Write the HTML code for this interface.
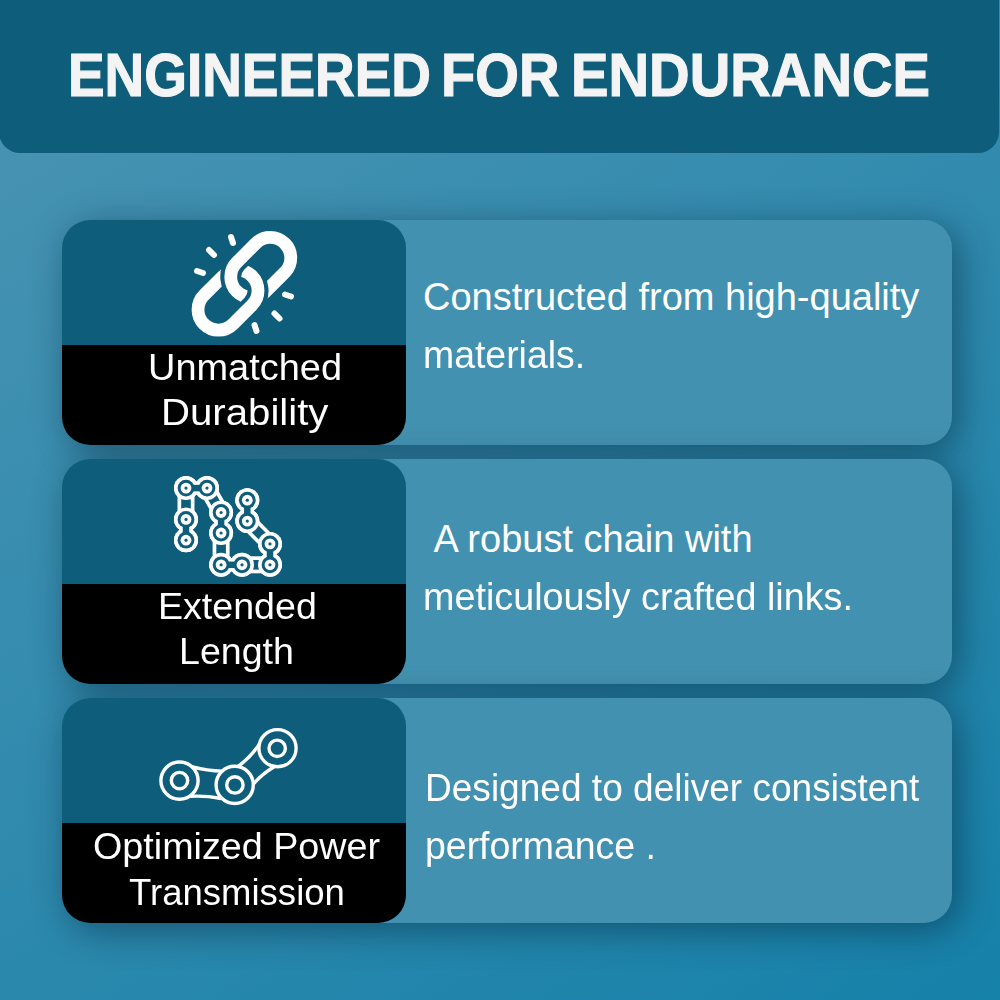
<!DOCTYPE html>
<html><head><meta charset="utf-8">
<style>
html,body{margin:0;padding:0}
body{width:1000px;height:1000px;position:relative;overflow:hidden;
 background:linear-gradient(148deg,rgb(75,148,179) 0%,rgb(22,129,169) 100%);
 font-family:"Liberation Sans",sans-serif;color:#fff}
.hdr{position:absolute;left:-1px;top:-30px;width:1000px;height:182.6px;background:#0e5d7a;border-radius:21px}
.title{font-weight:bold;font-size:62px;color:#f4f4f4;-webkit-text-stroke:1.2px #f4f4f4;word-spacing:-3px}
.card{position:absolute;left:62px;width:890px;height:225px;border-radius:28px;background:#4391b0;box-shadow:7px 7px 36px rgba(0,30,50,.48)}
.lft{position:absolute;left:0;top:0;width:344px;height:225px;border-radius:28px;background:linear-gradient(#0e5d7a 125px,#000 125px)}
.lft .top{position:absolute;left:0;top:0;width:344px;height:125px;background:#0f5d7b}
.t{position:absolute;white-space:nowrap;line-height:0;margin-top:-0.3465em;transform-origin:0 0}
.d{font-size:38px}
.l{font-size:36px}
svg{position:absolute;left:0;top:0}
</style></head><body>
<div class="hdr"></div>
<div class="t title" style="left:67.6px;top:96px;transform:scaleX(0.8854)">ENGINEERED</div>
<div class="t title" style="left:441.3px;top:96px;transform:scaleX(0.9048)">FOR</div>
<div class="t title" style="left:571.3px;top:96px;transform:scaleX(0.9064)">ENDURANCE</div>

<div class="card" style="top:220px"><div class="lft"></div></div>
<div class="card" style="top:459px"><div class="lft"></div></div>
<div class="card" style="top:698px"><div class="lft"></div></div>

<div class="t d" style="left:423px;top:310px;transform:scaleX(1.0)">Constructed from high-quality</div>
<div class="t d" style="left:423px;top:368px;transform:scaleX(0.984)">materials.</div>
<div class="t d" style="left:423px;top:552.5px;transform:scaleX(1.0)">&nbsp;A robust chain with</div>
<div class="t d" style="left:423px;top:610px;transform:scaleX(0.993)">meticulously crafted links.</div>
<div class="t d" style="left:425px;top:801px;transform:scaleX(0.975)">Designed to deliver consistent</div>
<div class="t d" style="left:425px;top:859px;transform:scaleX(0.985)">performance .</div>
<div class="t l" style="left:148px;top:380.4px;transform:scaleX(1.054)">Unmatched</div>
<div class="t l" style="left:160.6px;top:425.5px;transform:scaleX(1.116)">Durability</div>
<div class="t l" style="left:157.5px;top:619px;transform:scaleX(1.044)">Extended</div>
<div class="t l" style="left:179px;top:664.5px;transform:scaleX(1.044)">Length</div>
<div class="t l" style="left:93px;top:859.5px;transform:scaleX(1.047)">Optimized Power</div>
<div class="t l" style="left:129px;top:905.5px;transform:scaleX(1.015)">Transmission</div>

<svg width="1000" height="1000" viewBox="0 0 1000 1000">
 <g transform="translate(244.4 283.75) rotate(-45)" fill="none" stroke-width="12.8">
  <defs>
   <mask id="mu" maskUnits="userSpaceOnUse" x="-100" y="-100" width="200" height="200">
    <rect x="-100" y="-100" width="200" height="200" fill="#fff"/>
    <path d="M10.49 -3.56 A20.5 20.5 0 0 1 -9.70 20.50 L-25 20.5" stroke="#000" stroke-width="21" fill="none"/>
   </mask>
   <mask id="ml" maskUnits="userSpaceOnUse" x="-100" y="-100" width="200" height="200">
    <rect x="-100" y="-100" width="200" height="200" fill="#fff"/>
    <path d="M-10.49 3.56 A20.5 20.5 0 0 1 9.70 -20.50 L25 -20.5" stroke="#000" stroke-width="21" fill="none"/>
   </mask>
  </defs>
  <path mask="url(#mu)" stroke="#fff" d="M9.7 20.5 L36.6 20.5 A20.5 20.5 0 0 0 36.6 -20.5 L9.7 -20.5 A20.5 20.5 0 0 0 9.7 20.5"/>
  <path mask="url(#ml)" stroke="#fff" d="M-9.7 -20.5 L-36.6 -20.5 A20.5 20.5 0 0 0 -36.6 20.5 L-9.7 20.5 A20.5 20.5 0 0 0 -9.7 -20.5"/>
 </g>
 <g stroke="#fff" stroke-width="6" stroke-linecap="round">
  <line x1="231" y1="237" x2="233" y2="243"/>
  <line x1="209" y1="250" x2="214" y2="255"/>
  <line x1="197" y1="271" x2="203" y2="273"/>
  <line x1="285" y1="294.5" x2="291" y2="296.5"/>
  <line x1="274.5" y1="313.5" x2="279.5" y2="318.5"/>
  <line x1="254.5" y1="325" x2="256.5" y2="331"/>
 </g>
 <g>
<line x1="186" y1="540.2" x2="186" y2="519.4" stroke="#fff" stroke-width="13.5" stroke-linecap="butt"/>
<line x1="186" y1="519.4" x2="186" y2="488.1" stroke="#fff" stroke-width="17" stroke-linecap="butt"/>
<line x1="186" y1="488.1" x2="207" y2="488.1" stroke="#fff" stroke-width="13.5" stroke-linecap="butt"/>
<line x1="207" y1="488.1" x2="221.1" y2="512.5" stroke="#fff" stroke-width="17" stroke-linecap="butt"/>
<line x1="221.1" y1="512.5" x2="221.1" y2="533" stroke="#fff" stroke-width="13.5" stroke-linecap="butt"/>
<line x1="221.1" y1="533" x2="221.1" y2="564.8" stroke="#fff" stroke-width="17" stroke-linecap="butt"/>
<line x1="221.1" y1="564.8" x2="242" y2="564.8" stroke="#fff" stroke-width="13.5" stroke-linecap="butt"/>
<line x1="242" y1="564.8" x2="270" y2="564.8" stroke="#fff" stroke-width="17" stroke-linecap="butt"/>
<line x1="270" y1="564.8" x2="270" y2="543.9" stroke="#fff" stroke-width="13.5" stroke-linecap="butt"/>
<line x1="270" y1="543.9" x2="247.3" y2="521.1" stroke="#fff" stroke-width="17" stroke-linecap="butt"/>
<line x1="247.3" y1="521.1" x2="247.3" y2="500.2" stroke="#fff" stroke-width="13.5" stroke-linecap="butt"/>
<circle cx="186" cy="540.2" r="12" fill="#fff"/>
<circle cx="186" cy="519.4" r="12" fill="#fff"/>
<circle cx="186" cy="488.1" r="12" fill="#fff"/>
<circle cx="207" cy="488.1" r="12" fill="#fff"/>
<circle cx="221.1" cy="512.5" r="12" fill="#fff"/>
<circle cx="221.1" cy="533" r="12" fill="#fff"/>
<circle cx="221.1" cy="564.8" r="12" fill="#fff"/>
<circle cx="242" cy="564.8" r="12" fill="#fff"/>
<circle cx="270" cy="564.8" r="12" fill="#fff"/>
<circle cx="270" cy="543.9" r="12" fill="#fff"/>
<circle cx="247.3" cy="521.1" r="12" fill="#fff"/>
<circle cx="247.3" cy="500.2" r="12" fill="#fff"/>
<line x1="186" y1="519.4" x2="186" y2="488.1" stroke="#0e5d7a" stroke-width="9.6" stroke-linecap="butt"/>
<line x1="207" y1="488.1" x2="221.1" y2="512.5" stroke="#0e5d7a" stroke-width="9.6" stroke-linecap="butt"/>
<line x1="221.1" y1="533" x2="221.1" y2="564.8" stroke="#0e5d7a" stroke-width="9.6" stroke-linecap="butt"/>
<line x1="242" y1="564.8" x2="270" y2="564.8" stroke="#0e5d7a" stroke-width="9.6" stroke-linecap="butt"/>
<line x1="270" y1="543.9" x2="247.3" y2="521.1" stroke="#0e5d7a" stroke-width="9.6" stroke-linecap="butt"/>
<circle cx="186" cy="540.2" r="12" fill="#fff"/>
<circle cx="186" cy="519.4" r="12" fill="#fff"/>
<circle cx="186" cy="488.1" r="12" fill="#fff"/>
<circle cx="207" cy="488.1" r="12" fill="#fff"/>
<circle cx="221.1" cy="512.5" r="12" fill="#fff"/>
<circle cx="221.1" cy="533" r="12" fill="#fff"/>
<circle cx="221.1" cy="564.8" r="12" fill="#fff"/>
<circle cx="242" cy="564.8" r="12" fill="#fff"/>
<circle cx="270" cy="564.8" r="12" fill="#fff"/>
<circle cx="270" cy="543.9" r="12" fill="#fff"/>
<circle cx="247.3" cy="521.1" r="12" fill="#fff"/>
<circle cx="247.3" cy="500.2" r="12" fill="#fff"/>
<circle cx="186" cy="540.2" r="8.4" fill="#0e5d7a"/>
<circle cx="186" cy="519.4" r="8.4" fill="#0e5d7a"/>
<circle cx="186" cy="488.1" r="8.4" fill="#0e5d7a"/>
<circle cx="207" cy="488.1" r="8.4" fill="#0e5d7a"/>
<circle cx="221.1" cy="512.5" r="8.4" fill="#0e5d7a"/>
<circle cx="221.1" cy="533" r="8.4" fill="#0e5d7a"/>
<circle cx="221.1" cy="564.8" r="8.4" fill="#0e5d7a"/>
<circle cx="242" cy="564.8" r="8.4" fill="#0e5d7a"/>
<circle cx="270" cy="564.8" r="8.4" fill="#0e5d7a"/>
<circle cx="270" cy="543.9" r="8.4" fill="#0e5d7a"/>
<circle cx="247.3" cy="521.1" r="8.4" fill="#0e5d7a"/>
<circle cx="247.3" cy="500.2" r="8.4" fill="#0e5d7a"/>
<line x1="186" y1="540.2" x2="186" y2="519.4" stroke="#0e5d7a" stroke-width="6.5" stroke-linecap="butt"/>
<line x1="186" y1="488.1" x2="207" y2="488.1" stroke="#0e5d7a" stroke-width="6.5" stroke-linecap="butt"/>
<line x1="221.1" y1="512.5" x2="221.1" y2="533" stroke="#0e5d7a" stroke-width="6.5" stroke-linecap="butt"/>
<line x1="221.1" y1="564.8" x2="242" y2="564.8" stroke="#0e5d7a" stroke-width="6.5" stroke-linecap="butt"/>
<line x1="270" y1="564.8" x2="270" y2="543.9" stroke="#0e5d7a" stroke-width="6.5" stroke-linecap="butt"/>
<line x1="247.3" y1="521.1" x2="247.3" y2="500.2" stroke="#0e5d7a" stroke-width="6.5" stroke-linecap="butt"/>
<circle cx="186" cy="540.2" r="5.4" fill="#fff"/>
<circle cx="186" cy="519.4" r="5.4" fill="#fff"/>
<circle cx="186" cy="488.1" r="5.4" fill="#fff"/>
<circle cx="207" cy="488.1" r="5.4" fill="#fff"/>
<circle cx="221.1" cy="512.5" r="5.4" fill="#fff"/>
<circle cx="221.1" cy="533" r="5.4" fill="#fff"/>
<circle cx="221.1" cy="564.8" r="5.4" fill="#fff"/>
<circle cx="242" cy="564.8" r="5.4" fill="#fff"/>
<circle cx="270" cy="564.8" r="5.4" fill="#fff"/>
<circle cx="270" cy="543.9" r="5.4" fill="#fff"/>
<circle cx="247.3" cy="521.1" r="5.4" fill="#fff"/>
<circle cx="247.3" cy="500.2" r="5.4" fill="#fff"/>
<circle cx="186" cy="540.2" r="1.6" fill="#0e5d7a"/>
<circle cx="186" cy="519.4" r="1.6" fill="#0e5d7a"/>
<circle cx="186" cy="488.1" r="1.6" fill="#0e5d7a"/>
<circle cx="207" cy="488.1" r="1.6" fill="#0e5d7a"/>
<circle cx="221.1" cy="512.5" r="1.6" fill="#0e5d7a"/>
<circle cx="221.1" cy="533" r="1.6" fill="#0e5d7a"/>
<circle cx="221.1" cy="564.8" r="1.6" fill="#0e5d7a"/>
<circle cx="242" cy="564.8" r="1.6" fill="#0e5d7a"/>
<circle cx="270" cy="564.8" r="1.6" fill="#0e5d7a"/>
<circle cx="270" cy="543.9" r="1.6" fill="#0e5d7a"/>
<circle cx="247.3" cy="521.1" r="1.6" fill="#0e5d7a"/>
<circle cx="247.3" cy="500.2" r="1.6" fill="#0e5d7a"/>
 </g>
 <g fill="none" stroke="#fff" stroke-width="3.4">
  <circle cx="179.5" cy="780.6" r="18.6"/><circle cx="179.5" cy="780.6" r="8.2"/>
  <circle cx="234.7" cy="784.9" r="18.6"/><circle cx="234.9" cy="784.9" r="8.2"/>
  <circle cx="277.5" cy="748.2" r="18.6"/><circle cx="277.2" cy="748.3" r="8.2"/>
  <path d="M191.6 766.7 Q207 771 222.5 771.1"/>
  <path d="M190.5 796.3 Q206 795.5 221 798.5"/>
  <path d="M237.6 766.7 Q250 758 259.4 744.2"/>
  <path d="M253.1 784.3 Q262 774 274.2 766.8"/>
 </g>
</svg>
</body></html>
